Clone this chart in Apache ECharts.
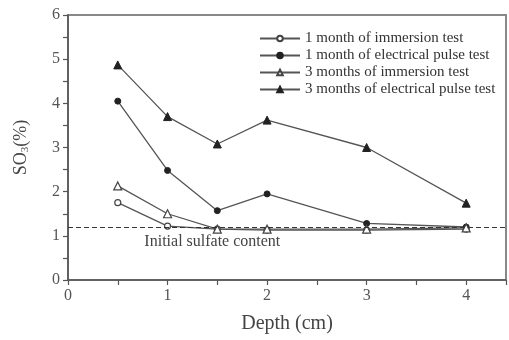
<!DOCTYPE html>
<html>
<head>
<meta charset="utf-8">
<script src="https://cdn.jsdelivr.net/npm/echarts@6/dist/echarts.min.js"></script>
<style>html,body{margin:0;padding:0;background:#fff}#c{width:509px;height:340px}</style>
</head>
<body>
<div id="c"></div>
<script>
const depth = [0.5, 1, 1.5, 2, 3, 4];
const seriesNames = [
  '1 month of immersion test',
  '1 month of electrical pulse test',
  '3 months of immersion test',
  '3 months of electrical pulse test'
];
const immersion1 = [1.75, 1.22, 1.15, 1.13, 1.13, 1.15];
const pulse1 = [4.05, 2.48, 1.57, 1.95, 1.28, 1.2];
const immersion3 = [2.13, 1.5, 1.15, 1.15, 1.15, 1.18];
const pulse3 = [4.87, 3.7, 3.08, 3.62, 3.0, 1.74];
const initialSulfate = 1.2;
const initialLabel = 'Initial sulfate content';
const labelAnchorX = 1.45;

const FONT = 'Liberation Serif';
const LINE = '#555';

function pairs(vals) { return depth.map((d, i) => [d, vals[i]]); }

function mk(name, vals, symbol, filled) {
  return {
    name: name,
    type: 'line',
    data: pairs(vals),
    symbol: symbol,
    symbolSize: symbol === 'triangle' ? 8 : 6,
    lineStyle: { color: LINE, width: 1.3 },
    itemStyle: filled
      ? { color: '#222', borderColor: '#222', borderWidth: 1 }
      : { color: '#fff', borderColor: '#444', borderWidth: 1.2 },
    z: 3
  };
}

const series = [
  mk(seriesNames[0], immersion1, 'circle', false),
  mk(seriesNames[1], pulse1, 'circle', true),
  mk(seriesNames[2], immersion3, 'triangle', false),
  mk(seriesNames[3], pulse3, 'triangle', true),
  {
    name: 'ref',
    type: 'line',
    data: [],
    silent: true,
    markLine: {
      silent: true,
      symbol: ['none', 'none'],
      lineStyle: { color: '#333', type: [5, 3], width: 1.2 },
      label: { show: false },
      data: [{ yAxis: initialSulfate }]
    },
    markPoint: {
      silent: true,
      symbol: 'circle',
      symbolSize: 0,
      label: {
        show: true,
        formatter: initialLabel,
        fontFamily: FONT,
        fontSize: 16,
        color: '#444',
        offset: [0, 15]
      },
      data: [{ coord: [labelAnchorX, initialSulfate] }]
    }
  }
];

const chart = echarts.init(document.getElementById('c'), null, { renderer: 'canvas' });
chart.setOption({
  animation: false,
  backgroundColor: '#fff',
  grid: {
    left: 68, top: 15, bottom: 60, right: 0,
    show: true, borderColor: '#888', borderWidth: 2, backgroundColor: 'transparent'
  },
  legend: {
    data: seriesNames,
    left: 254, top: 26,
    orient: 'vertical',
    itemWidth: 40, itemHeight: 7, itemGap: 2,
    textStyle: { fontFamily: FONT, fontSize: 15, color: '#333', lineHeight: 15 }
  },
  xAxis: {
    type: 'value', min: 0, max: 4.4, interval: 0.5,
    name: 'Depth (cm)', nameLocation: 'middle', nameGap: 34,
    nameTextStyle: { fontFamily: FONT, fontSize: 20, color: '#444' },
    axisLine: { show: true, lineStyle: { color: '#555', width: 1.5 } },
    axisTick: { show: true, inside: false, length: 5, lineStyle: { color: '#555', width: 1.2 } },
    axisLabel: {
      fontFamily: FONT, fontSize: 16, color: '#555', margin: 8,
      formatter: v => (Math.abs(v - Math.round(v)) < 1e-9 ? String(Math.round(v)) : '')
    },
    splitLine: { show: false }
  },
  yAxis: {
    type: 'value', min: 0, max: 6, interval: 0.5,
    name: '{a|SO}{b|3}{a|(%)}', nameLocation: 'middle', nameGap: 37,
    nameTextStyle: {
      rich: {
        a: { fontFamily: FONT, fontSize: 18, color: '#444' },
        b: { fontFamily: FONT, fontSize: 11, color: '#444', padding: [8, 0, 0, 0] }
      }
    },
    axisLine: { show: true, lineStyle: { color: '#555', width: 1.5 } },
    axisTick: { show: true, inside: false, length: 5, lineStyle: { color: '#555', width: 1.2 } },
    axisLabel: {
      fontFamily: FONT, fontSize: 16, color: '#555', margin: 8,
      formatter: v => (Math.abs(v - Math.round(v)) < 1e-9 ? String(Math.round(v)) : '')
    },
    splitLine: { show: false }
  },
  series: series
});
</script>
</body>
</html>
